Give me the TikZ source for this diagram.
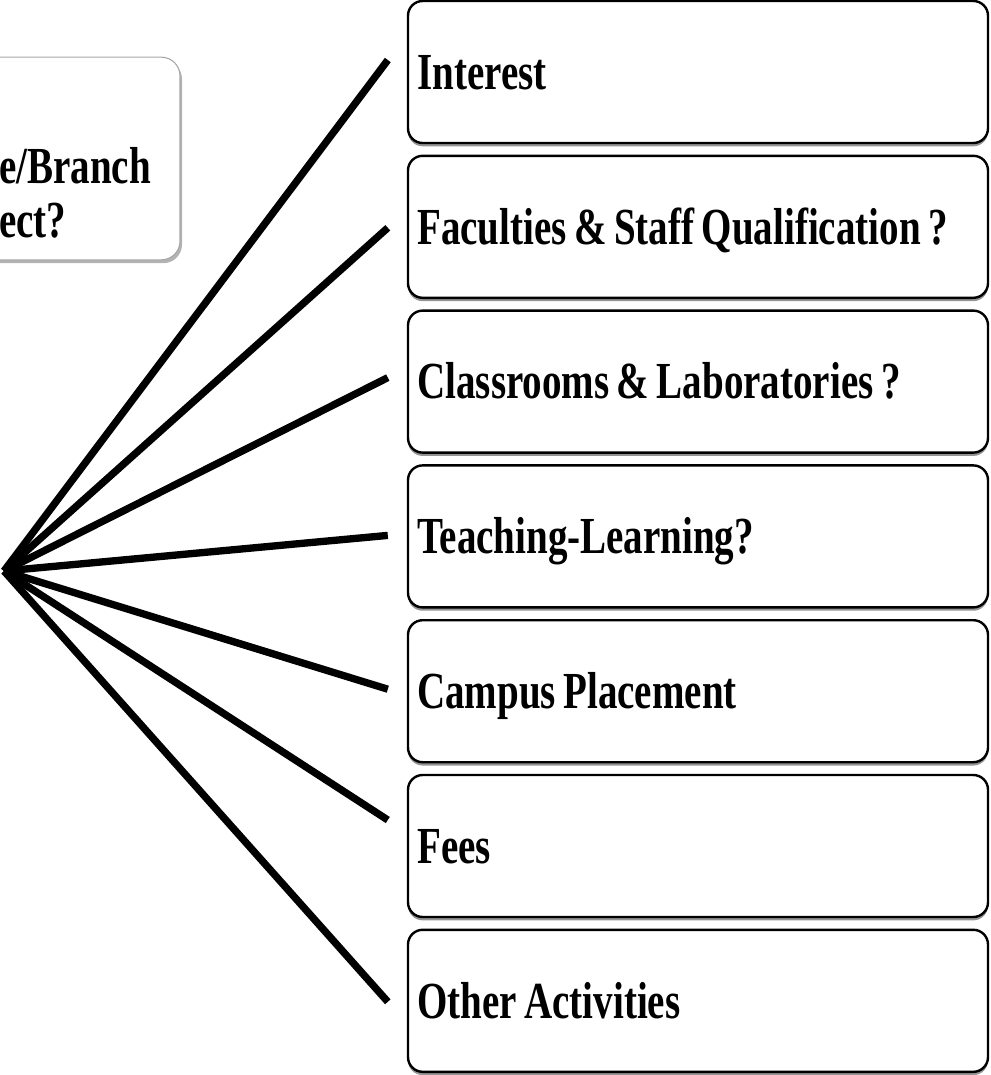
\documentclass[tikz,border=0pt]{standalone}
\usepackage{fontspec}
\setmainfont{Liberation Serif}
\usetikzlibrary{calc,shadows}

\newcommand{\narrow}[1]{\scalebox{0.75}[1]{\spaceskip=7.5pt\relax #1}}

\tikzset{
  choice/.style={draw=black, line width=1.8pt, rounded corners=11pt, fill=white,
    minimum width=435pt, minimum height=106.5pt, text width=421pt, inner xsep=7pt,
    align=left, text height=26pt, text depth=0pt,
    font=\fontsize{39}{44}\selectfont\bfseries,
    drop shadow={shadow xshift=0pt, shadow yshift=-2.5pt, fill=black!60, opacity=.7}},
  qbox/.style={draw=black!35, line width=0.8pt, rounded corners=14pt, fill=white,
    minimum width=157.5pt, minimum height=152pt,
    drop shadow={shadow xshift=1.5pt, shadow yshift=-2.5pt, fill=black!50, opacity=.6}},
  qtext/.style={inner sep=0pt, anchor=base west, font=\fontsize{39}{44}\selectfont\bfseries},
  spoke/.style={line width=5.5pt},
}

\begin{document}
\begin{tikzpicture}[x=0.75pt,y=0.75pt,yscale=-1,xscale=1]
\clip (0,0) rectangle (990,1075);

%Shape: question box, cut at the left edge
\node[qbox] (q) at (75,158.5) {};
\node[qtext] (q1) at (-1,183) {\narrow{e/Branch}};
\node[qtext] (q2) at (-1,237) {\narrow{ect?}};

%Shape: the seven factor boxes
\node[choice] (interest) at (698,72) {\narrow{Interest}};
\node[choice] (faculty) at (698,226.8) {\narrow{Faculties \& Staff Qualification ?}};
\node[choice] (labs) at (698,381.6) {\narrow{Classrooms \& Laboratories ?}};
\node[choice] (teaching) at (698,536.4) {\narrow{Teaching-Learning?}};
\node[choice] (placement) at (698,691.2) {\narrow{Campus Placement}};
\node[choice] (fees) at (698,846) {\narrow{Fees}};
\node[choice] (other) at (698,1000.8) {\narrow{Other Activities}};

%Straight Lines: fan from one point
\coordinate (hub) at (4,571);
\draw[spoke] (hub) -- ($(interest.west)+(-19,-12)$);
\draw[spoke] (hub) -- ($(faculty.west)+(-19,1)$);
\draw[spoke] (hub) -- ($(labs.west)+(-19,-4)$);
\draw[spoke] (hub) -- ($(teaching.west)+(-19,-1)$);
\draw[spoke] (hub) -- ($(placement.west)+(-19,-2)$);
\draw[spoke] (hub) -- ($(fees.west)+(-19,-26)$);
\draw[spoke] (hub) -- ($(other.west)+(-19,1)$);

\end{tikzpicture}
\end{document}
